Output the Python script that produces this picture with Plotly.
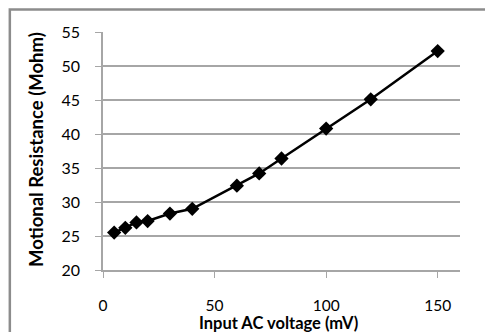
import plotly.graph_objects as go

voltage_mV = [5, 10, 15, 20, 30, 40, 60, 70, 80, 100, 120, 150]
resistance_Mohm = [25.5, 26.2, 27.0, 27.2, 28.3, 29.0, 32.4, 34.2, 36.4, 40.8, 45.1, 52.2]
x_ticks = [0, 50, 100, 150]
y_ticks = [20, 25, 30, 35, 40, 45, 50, 55]

FONT = "Lato, 'Open Sans', sans-serif"

fig = go.Figure()
fig.add_trace(go.Scatter(
    x=voltage_mV, y=resistance_Mohm, mode="lines+markers",
    line=dict(color="black", width=2.5),
    marker=dict(symbol="diamond", size=11, color="black"),
    showlegend=False,
))

# page body has an 8px margin: work in window pixels, shift by OFF
OFF = 8
W, H = 493, 332
left, right, top, bottom = 102.5, 460, 31.7, 269.7  # plot area in window px
ml, mt = left - OFF, top - OFF
mr = W - (right - OFF)
mb = H - (bottom - OFF)
pw, ph = right - left, bottom - top


def px(xw):
    return (xw - left) / pw


def py(yw):
    return (bottom - yw) / ph


fig.update_layout(
    width=W, height=H,
    margin=dict(l=ml, r=mr, t=mt, b=mb, pad=0),
    paper_bgcolor="white", plot_bgcolor="white",
    font=dict(family=FONT, size=16, color="black"),
    xaxis=dict(
        range=[0, 160], tickvals=x_ticks, ticktext=[str(v) for v in x_ticks],
        showgrid=False, zeroline=False,
        showline=True, linecolor="#a6a6a6", linewidth=1.5,
        ticks="outside", ticklen=6, tickcolor="#a6a6a6", tickwidth=1,
        ticklabelstandoff=15,
        tickfont=dict(family=FONT, size=15.5, color="black"),
    ),
    yaxis=dict(
        range=[20, 55], tickvals=y_ticks,
        showgrid=True, gridcolor="#a6a6a6", gridwidth=1.5,
        zeroline=False,
        showline=True, linecolor="#a6a6a6", linewidth=1.5,
        ticks="outside", ticklen=6, tickcolor="#a6a6a6", tickwidth=1,
        ticklabelstandoff=12,
        tickfont=dict(family=FONT, size=16, color="black"),
    ),
    annotations=[
        dict(text="<b>Input AC voltage (mV)</b>", xref="paper", yref="paper",
             x=px(278.5), y=py(323),
             showarrow=False, xanchor="center", yanchor="middle",
             font=dict(family=FONT, size=16.5, color="black")),
        dict(text="<b>Motional Resistance (Mohm)</b>", xref="paper", yref="paper",
             x=px(36), y=py(149), textangle=-90,
             showarrow=False, xanchor="center", yanchor="middle",
             font=dict(family=FONT, size=18.5, color="black")),
    ],
    shapes=[
        dict(type="rect", xref="paper", yref="paper",
             x0=px(9.2), x1=2, y0=-2, y1=py(9.2),
             line=dict(color="#8c8c8c", width=2.5), fillcolor="rgba(0,0,0,0)",
             layer="below"),
    ],
)

fig.write_html("out.html")
